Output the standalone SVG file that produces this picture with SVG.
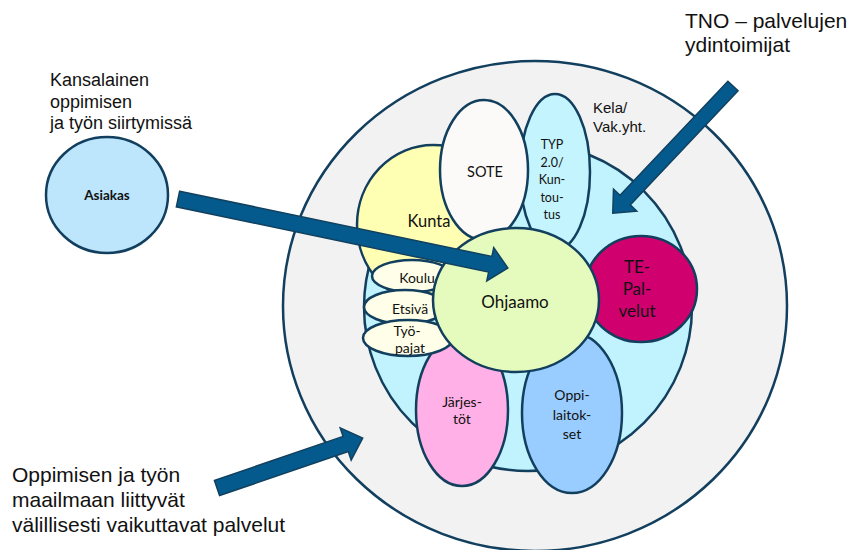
<svg xmlns="http://www.w3.org/2000/svg" width="853" height="550" viewBox="0 0 853 550">
<style>
.n{stroke:#123f5e;stroke-width:2.5}
.t{font-family:Lato,"Open Sans","Liberation Sans",sans-serif;fill:#111;text-anchor:middle}
.a{font-family:"Liberation Sans",Arial,sans-serif;fill:#111}
.arr{fill:#045a8d;stroke:#12405f;stroke-width:1.5}
</style>
<rect width="853" height="550" fill="#ffffff"/>
<g id="outer"><ellipse class="n" cx="535" cy="306" rx="252" ry="245" fill="#f2f2f2"/></g>
<g id="inner"><ellipse class="n" cx="528" cy="307" rx="164" ry="164" fill="#c0f3fd"/></g>
<g id="kunta"><ellipse class="n" cx="433" cy="225" rx="76" ry="80" fill="#ffffb3"/><text class="t" x="429" y="227" font-size="16.5">Kunta</text></g>
<g id="typ"><ellipse class="n" cx="555" cy="172" rx="35" ry="78" fill="#c4f4fd"/>
<text class="t" font-size="12.5"><tspan x="552" y="149">TYP</tspan><tspan x="552" y="167">2.0/</tspan><tspan x="552" y="184">Kun-</tspan><tspan x="552" y="202">tou-</tspan><tspan x="552" y="219">tus</tspan></text></g>
<g id="sote"><ellipse class="n" cx="484" cy="170" rx="44" ry="70" fill="#fbfaf8"/><text class="t" x="485" y="177" font-size="14.5">SOTE</text></g>
<g id="jarjestot"><ellipse class="n" cx="462" cy="410" rx="46" ry="76" fill="#ffb0e6"/>
<text class="t" font-size="14"><tspan x="462" y="407">Järjes-</tspan><tspan x="462" y="424">töt</tspan></text></g>
<g id="oppilaitokset"><ellipse class="n" cx="572" cy="413" rx="50" ry="80" fill="#99ccff"/>
<text class="t" font-size="14"><tspan x="572" y="400">Oppi-</tspan><tspan x="572" y="420">laitok-</tspan><tspan x="572" y="439">set</tspan></text></g>
<g id="tepalvelut"><ellipse class="n" cx="641" cy="289" rx="56" ry="53" fill="#d0006f"/>
<text class="t" font-size="17"><tspan x="637" y="273">TE-</tspan><tspan x="637" y="295">Pal-</tspan><tspan x="637" y="317">velut</tspan></text></g>
<g id="koulu"><ellipse class="n" cx="412" cy="276" rx="40" ry="16" fill="#fffee8"/><text class="t" x="417" y="283" font-size="14">Koulu</text></g>
<g id="etsiva"><ellipse class="n" cx="405" cy="307" rx="41" ry="17" fill="#fffee8"/><text class="t" x="410" y="314" font-size="14">Etsivä</text></g>
<g id="tyopajat"><ellipse class="n" cx="408" cy="338" rx="45" ry="18" fill="#fffee8"/>
<text class="t" font-size="14"><tspan x="407" y="336">Työ-</tspan><tspan x="410" y="353">pajat</tspan></text></g>
<g id="ohjaamo"><ellipse class="n" cx="516" cy="300" rx="83" ry="72" fill="#e5fbbd"/><text class="t" x="515" y="308" font-size="17">Ohjaamo</text></g>
<g id="asiakas"><ellipse class="n" cx="107" cy="195" rx="61" ry="58" fill="#bde5fc"/><text class="t" x="107" y="200" font-size="13.5" font-weight="bold">Asiakas</text></g>
<g id="labels">
<text class="a" font-size="18"><tspan x="50" y="86">Kansalainen</tspan><tspan x="50" y="108">oppimisen</tspan><tspan x="50" y="129">ja työn siirtymissä</tspan></text>
<text class="a" font-size="21"><tspan x="685" y="28">TNO – palvelujen</tspan><tspan x="685" y="52">ydintoimijat</tspan></text>
<text class="a" font-size="15"><tspan x="593" y="113">Kela/</tspan><tspan x="593" y="132">Vak.yht.</tspan></text>
<text class="a" font-size="21"><tspan x="12" y="482">Oppimisen ja työn</tspan><tspan x="12" y="507">maailmaan liittyvät</tspan><tspan x="12" y="532">välillisesti vaikuttavat palvelut</tspan></text>
</g>
<g id="connectors">
<polygon class="arr" transform="translate(178,199) rotate(11.81)" points="0,-8 319,-8 319,-17 337,0 319,17 319,8 0,8"/>
<polygon class="arr" transform="translate(733,86) rotate(133.4)" points="0,-7 157,-7 157,-16 175,0 157,16 157,7 0,7"/>
<polygon class="arr" transform="translate(217,488) rotate(-18.9)" points="0,-8 136,-8 136,-17 154,0 136,17 136,8 0,8"/>
</g>
</svg>
